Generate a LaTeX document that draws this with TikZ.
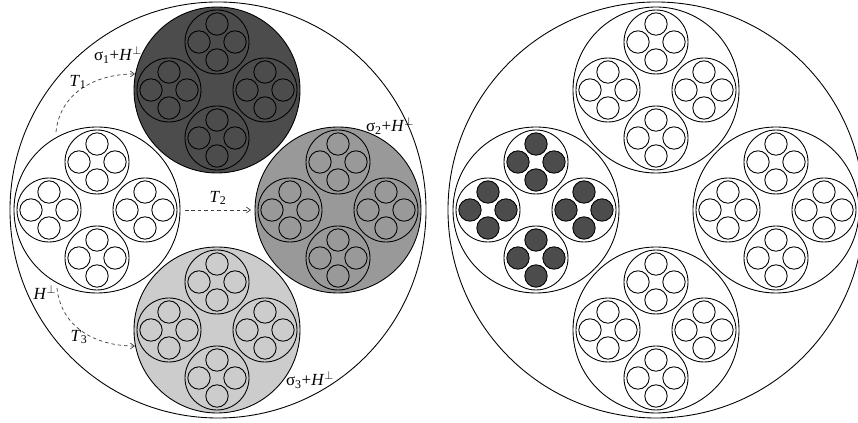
\documentclass[tikz,border=0pt]{standalone}
\usepackage{fontspec}
\setmainfont{Liberation Serif}
\usetikzlibrary{arrows.meta,calc}
\definecolor{shadeone}{gray}{0.30}
\definecolor{shadetwo}{gray}{0.60}
\definecolor{shadethree}{gray}{0.80}

\begin{document}
\begin{tikzpicture}[
  x=0.03cm,y=0.03cm,
  >={Straight Barb[length=3.5pt,width=5pt]},
  lvl/.style={circle,draw=black,line width=0.75pt,inner sep=0pt,outer sep=0pt},
  whole/.style={lvl,minimum size=12.48cm},
  disk/.style={lvl,minimum size=4.98cm},
  ring/.style={lvl,minimum size=1.92cm},
  dot/.style={lvl,minimum size=0.67cm},
  plain/.style={fill=white},
  shaded/.style={fill=#1},
  hollow/.style={},
  flow/.style={->,dashed,dash pattern=on 3pt off 2.5pt,line width=0.6pt,black!75},
  lab/.style={font=\fontsize{14.5}{16}\selectfont,inner sep=1pt}
]
\newcommand{\cluster}[3]{\node[ring] (#1) at (#2) {};
  \foreach \a in {0,90,180,270} \node[dot,#3] at ($(#1)+(\a:18)$) {};}
\newcommand{\disk}[4]{\node[disk,#3] (#1) at (#2) {};
  \foreach \b in {0,90,180,270} {\cluster{#1\b}{$(#1)+(\b:48)$}{#4}}}
\useasboundingbox[fill=white] (0,0) rectangle (858,423);
% ================= left: shifted copies =================
\node[whole] (lw) at (218,213) {};
\disk{lo}{97,213}{plain}{hollow}
\disk{la}{217,333}{shaded=shadeone}{hollow}
\disk{lb}{338,213}{shaded=shadetwo}{hollow}
\disk{lc}{217,93}{shaded=shadethree}{hollow}
\coordinate (t1s) at (56,291);
\coordinate (t1e) at (135,349);
\coordinate (t2s) at (185,213);
\coordinate (t2e) at (251,213);
\coordinate (t3s) at (57,135);
\coordinate (t3e) at (135,77);
\draw[flow] (t1s) .. controls (60,330) and (95,349) .. (t1e);
\draw[flow] (t2s) -- (t2e);
\draw[flow] (t3s) .. controls (61,96) and (95,77) .. (t3e);
\node[lab] (sa) at (118,368) {σ\textsubscript{1}+\textit{H}\textsuperscript{$\perp$}};
\node[lab] (sb) at (390,297) {σ\textsubscript{2}+\textit{H}\textsuperscript{$\perp$}};
\node[lab] (sc) at (310,43) {σ\textsubscript{3}+\textit{H}\textsuperscript{$\perp$}};
\node[lab] (ta) at (78,341) {\textit{T}\textsubscript{1}};
\node[lab] (tb) at (218,225) {\textit{T}\textsubscript{2}};
\node[lab] (tc) at (79,86) {\textit{T}\textsubscript{3}};
\node[lab] (hp) at (45,131) {\textit{H}\textsuperscript{$\perp$}};
% ================= right: marked subgroup =================
\node[whole] (rw) at (656,213) {};
\disk{ro}{536,213}{plain}{shaded=shadeone}
\disk{ra}{656,333}{plain}{hollow}
\disk{rb}{776,213}{plain}{hollow}
\disk{rc}{656,93}{plain}{hollow}
\end{tikzpicture}
\end{document}
